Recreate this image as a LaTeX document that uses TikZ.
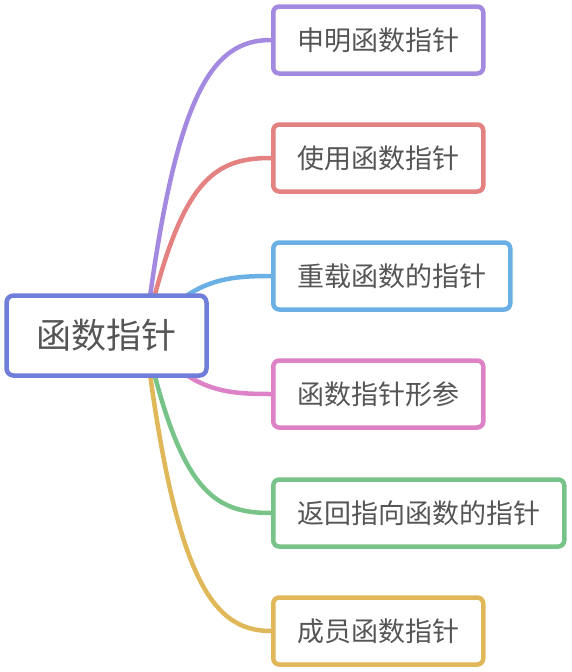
\documentclass[tikz,border=0pt]{standalone}
\usepackage{fontspec}
\newfontfamily\cjk{Noto Sans CJK SC}
\usetikzlibrary{backgrounds}
\definecolor{txtgray}{RGB}{85,85,85}
\definecolor{rootblue}{RGB}{111,126,216}
\definecolor{lilac}{RGB}{163,137,224}
\definecolor{salmon}{RGB}{228,130,130}
\definecolor{skyblue}{RGB}{106,176,228}
\definecolor{orchid}{RGB}{222,130,200}
\definecolor{leaf}{RGB}{120,196,136}
\definecolor{mustard}{RGB}{224,184,90}
\begin{document}
\begin{tikzpicture}[x=1pt,y=-1pt,
    rootbox/.style={draw=rootblue,line width=4.5pt,fill=white,rounded corners=7pt,
        minimum height=80pt,inner xsep=30pt,text=txtgray,
        font=\cjk\fontsize{35}{35}\selectfont},
    leafbox/.style={draw=#1,line width=4.5pt,fill=white,rounded corners=6pt,anchor=west,
        minimum height=67pt,inner xsep=24pt,text=txtgray,
        font=\cjk\fontsize{27}{27}\selectfont},
    branch/.style={draw=#1,line width=4.5pt}]
    \useasboundingbox (0,0) rectangle (572,672);

    \node[rootbox] (root) at (106.5,335.5) {函数指针};
    \coordinate (hub) at (145,335.5);

    \node[leafbox=lilac] (decl) at (271,40) {申明函数指针};
    \node[leafbox=salmon] (use) at (271,158) {使用函数指针};
    \node[leafbox=skyblue] (overload) at (271,276) {重载函数的指针};
    \node[leafbox=orchid] (param) at (271,394) {函数指针形参};
    \node[leafbox=leaf] (ret) at (271,513) {返回指向函数的指针};
    \node[leafbox=mustard] (member) at (271,631) {成员函数指针};

    \begin{pgfonlayer}{background}
        \draw[branch=lilac] (hub) .. controls (175,90) and (213,40) .. (decl.west);
        \draw[branch=salmon] (hub) .. controls (180,180) and (213,158) .. (use.west);
        \draw[branch=skyblue] (hub) .. controls (190,280) and (223,276) .. (overload.west);
        \draw[branch=orchid] (hub) .. controls (190,391) and (223,394) .. (param.west);
        \draw[branch=leaf] (hub) .. controls (180,491) and (213,513) .. (ret.west);
        \draw[branch=mustard] (hub) .. controls (175,581) and (213,631) .. (member.west);
    \end{pgfonlayer}
\end{tikzpicture}
\end{document}
